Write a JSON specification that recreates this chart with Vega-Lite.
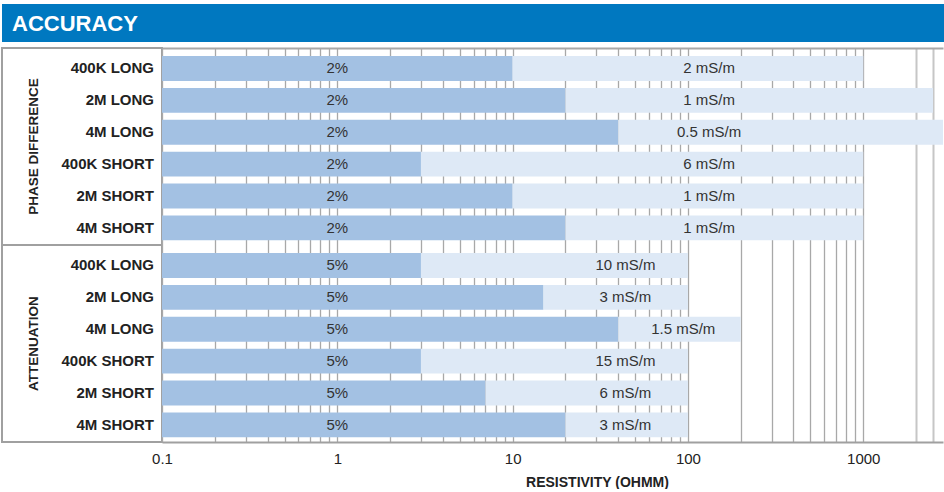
{
  "$schema": "https://vega.github.io/schema/vega-lite/v6.json",
  "padding": {"left": 1, "top": 4, "right": 0, "bottom": 0},
  "background": "white",
  "config": {
    "font": "Liberation Sans",
    "view": {"stroke": null},
    "axis": {"labelFont": "Liberation Sans", "titleFont": "Liberation Sans"},
    "text": {"font": "Liberation Sans"}
  },
  "data": {
    "values": [
      {"group": "PHASE DIFFERENCE", "sensor": "400K LONG", "pct": "2%", "pct_to": 10, "cond": "2 mS/m", "cond_to": 1000},
      {"group": "PHASE DIFFERENCE", "sensor": "2M LONG", "pct": "2%", "pct_to": 20, "cond": "1 mS/m", "cond_to": 2500},
      {"group": "PHASE DIFFERENCE", "sensor": "4M LONG", "pct": "2%", "pct_to": 40, "cond": "0.5 mS/m", "cond_to": 4000},
      {"group": "PHASE DIFFERENCE", "sensor": "400K SHORT", "pct": "2%", "pct_to": 3, "cond": "6 mS/m", "cond_to": 1000},
      {"group": "PHASE DIFFERENCE", "sensor": "2M SHORT", "pct": "2%", "pct_to": 10, "cond": "1 mS/m", "cond_to": 1000},
      {"group": "PHASE DIFFERENCE", "sensor": "4M SHORT", "pct": "2%", "pct_to": 20, "cond": "1 mS/m", "cond_to": 1000},
      {"group": "ATTENUATION", "sensor": "400K LONG", "pct": "5%", "pct_to": 3, "cond": "10 mS/m", "cond_to": 100},
      {"group": "ATTENUATION", "sensor": "2M LONG", "pct": "5%", "pct_to": 15, "cond": "3 mS/m", "cond_to": 100},
      {"group": "ATTENUATION", "sensor": "4M LONG", "pct": "5%", "pct_to": 40, "cond": "1.5 mS/m", "cond_to": 200},
      {"group": "ATTENUATION", "sensor": "400K SHORT", "pct": "5%", "pct_to": 3, "cond": "15 mS/m", "cond_to": 100},
      {"group": "ATTENUATION", "sensor": "2M SHORT", "pct": "5%", "pct_to": 7, "cond": "6 mS/m", "cond_to": 100},
      {"group": "ATTENUATION", "sensor": "4M SHORT", "pct": "5%", "pct_to": 20, "cond": "3 mS/m", "cond_to": 100}
    ]
  },
  "bounds": "full",
  "spacing": 5,
  "vconcat": [
    {
      "width": 942,
      "height": 38,
      "view": {"fill": "#0078c0", "stroke": null},
      "data": {"values": [{"heading": "ACCURACY"}]},
      "mark": {"type": "text", "align": "left", "baseline": "middle", "color": "white", "fontSize": 22, "fontWeight": "bold", "dx": 10, "dy": 1},
      "encoding": {
        "text": {"field": "heading"},
        "x": {"datum": 0, "type": "quantitative", "scale": {"domain": [0, 1], "nice": false}, "axis": null}
      }
    },
    {
      "bounds": "flush",
      "spacing": 0,
      "hconcat": [
        {
          "width": 160,
          "height": 394,
          "encoding": {
            "y": {"field": "group", "type": "nominal", "scale": {"domain": ["PHASE DIFFERENCE", "ATTENUATION"], "paddingInner": 0, "paddingOuter": 0}, "axis": null}
          },
          "layer": [
            {
              "transform": [{"aggregate": [{"op": "count", "as": "n"}], "groupby": ["group"]}],
              "mark": {"type": "rect", "fill": "white", "stroke": "#a0a0a0", "strokeWidth": 2},
              "encoding": {
                "x": {"datum": 0, "type": "quantitative", "scale": {"domain": [0, 1], "nice": false}, "axis": null},
                "x2": {"datum": 1}
              }
            },
            {
              "transform": [{"aggregate": [{"op": "count", "as": "n"}], "groupby": ["group"]}],
              "mark": {"type": "text", "angle": 270, "fontWeight": "bold", "fontSize": 13.5, "color": "#222222"},
              "encoding": {
                "x": {"datum": 0.2, "type": "quantitative"},
                "text": {"field": "group"}
              }
            },
            {
              "mark": {"type": "text", "align": "right", "fontWeight": "bold", "fontSize": 15, "color": "#222222"},
              "encoding": {
                "x": {"datum": 0.95, "type": "quantitative"},
                "yOffset": {"field": "sensor", "type": "nominal", "scale": {"domain": ["400K LONG", "2M LONG", "4M LONG", "400K SHORT", "2M SHORT", "4M SHORT"], "paddingInner": 0.22, "paddingOuter": 0.2, "align": 0.63}},
                "text": {"field": "sensor"}
              }
            }
          ]
        },
        {
          "width": 781,
          "height": 394,
          "encoding": {
            "y": {"field": "group", "type": "nominal", "scale": {"domain": ["PHASE DIFFERENCE", "ATTENUATION"], "paddingInner": 0, "paddingOuter": 0}, "axis": null},
            "yOffset": {"field": "sensor", "type": "nominal", "scale": {"domain": ["400K LONG", "2M LONG", "4M LONG", "400K SHORT", "2M SHORT", "4M SHORT"], "paddingInner": 0.22, "paddingOuter": 0.2, "align": 0.63}}
          },
          "resolve": {"axis": {"x": "independent"}},
          "layer": [
            {
              "mark": {"type": "bar", "color": "#a3c1e3"},
              "encoding": {
                "x": {
                  "field": "pct_to",
                  "type": "quantitative",
                  "scale": {"type": "log", "domain": [0.1, 2850], "nice": false},
                  "axis": {
                    "orient": "bottom", "title": "RESISTIVITY (OHMM)", "ticks": false,
                    "domain": true, "domainColor": "#a0a0a0", "domainWidth": 2,
                    "grid": true,
                    "values": [0.1,0.2,0.3,0.4,0.5,0.6,0.7,0.8,0.9,1,2,3,4,5,6,7,8,9,10,20,30,40,50,60,70,80,90,100,200,300,400,500,600,700,800,900,1000,2000,2500],
                    "gridColor": {"condition": {"test": "datum.value >= 2000", "value": "#c6c6c6"}, "value": "#a8a8a8"},
                    "gridWidth": {"condition": {"test": "datum.value >= 2000", "value": 2}, "value": 1.3},
                    "format": "~g",
                    "labelExpr": "indexof(['0.1','1','10','100','1000'], datum.label) >= 0 ? datum.label : ''",
                    "labelFlush": false,
                    "labelOverlap": false,
                    "labelFontSize": 15,
                    "labelColor": "#222222",
                    "labelPadding": 9,
                    "titleFontSize": 14,
                    "titleFontWeight": "bold",
                    "titleColor": "#222222",
                    "titlePadding": 9,
                    "titleX": 435
                  }
                },
                "x2": {"datum": 0.1}
              }
            },
            {
              "mark": {"type": "bar", "color": "#dee9f6", "clip": true},
              "encoding": {
                "x": {
                  "field": "pct_to",
                  "type": "quantitative",
                  "axis": {"orient": "top", "title": null, "labels": false, "ticks": false, "grid": false, "domain": true, "domainColor": "#a8a8a8", "domainWidth": 2}
                },
                "x2": {"field": "cond_to"}
              }
            },
            {
              "mark": {"type": "text", "fontSize": 15, "color": "#333333"},
              "encoding": {"x": {"datum": 1, "type": "quantitative", "axis": null}, "text": {"field": "pct"}}
            },
            {
              "transform": [{"filter": "datum.group == 'PHASE DIFFERENCE'"}],
              "mark": {"type": "text", "fontSize": 15, "color": "#333333"},
              "encoding": {"x": {"datum": 132, "type": "quantitative", "axis": null}, "text": {"field": "cond"}}
            },
            {
              "transform": [{"filter": "datum.group == 'ATTENUATION' && datum.sensor != '4M LONG'"}],
              "mark": {"type": "text", "fontSize": 15, "color": "#333333"},
              "encoding": {"x": {"datum": 44, "type": "quantitative", "axis": null}, "text": {"field": "cond"}}
            },
            {
              "transform": [{"filter": "datum.group == 'ATTENUATION' && datum.sensor == '4M LONG'"}],
              "mark": {"type": "text", "fontSize": 15, "color": "#333333"},
              "encoding": {"x": {"datum": 94, "type": "quantitative", "axis": null}, "text": {"field": "cond"}}
            }
          ]
        }
      ]
    }
  ]
}
